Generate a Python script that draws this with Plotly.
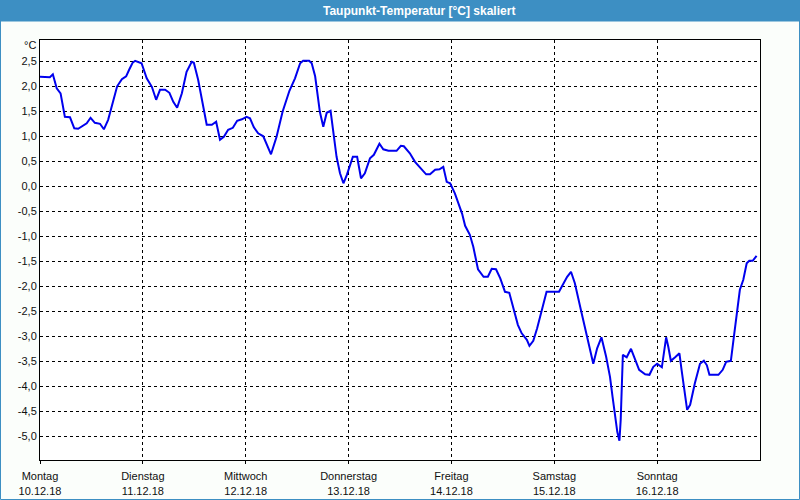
import plotly.graph_objects as go

# hours since Monday 10.12.18 00:00
hours = [0.0, 2.3, 3.0, 3.9, 4.8, 5.8, 7.0, 8.0, 8.9, 10.1, 10.9, 11.8, 12.8, 14.0, 14.9, 15.9,
         17.0, 18.0, 19.1, 20.1, 20.8, 21.6, 22.2, 23.7, 24.9, 26.1, 27.1, 28.0, 29.2, 30.2,
         31.1, 32.0, 33.1, 34.2, 35.4, 35.9, 36.9, 38.1, 38.9, 40.1, 41.1, 42.0, 42.9, 43.9,
         45.0, 46.0, 47.1, 48.2, 49.0, 49.9, 50.9, 52.1, 53.0, 53.9, 55.2, 56.6, 58.2, 59.5,
         60.7, 61.4, 62.8, 63.4, 64.2, 64.7, 65.3, 66.1, 66.9, 67.8, 68.6, 69.2, 70.0, 70.8,
         71.6, 72.5, 73.0, 74.0, 74.9, 75.8, 77.0, 77.9, 79.2, 80.1, 81.3, 83.2, 84.2, 84.9,
         86.3, 87.5, 88.5, 90.1, 91.0, 92.2, 93.2, 94.1, 94.9, 95.7, 96.8, 97.6, 98.5, 99.2,
         100.3, 101.1, 101.7, 102.2, 103.5, 104.5, 105.4, 106.4, 107.4, 108.5, 109.5, 110.5,
         111.5, 112.4, 113.6, 114.2, 115.1, 116.0, 117.1, 118.2, 121.1, 122.1, 123.0, 123.9,
         124.8, 126.2, 127.6, 128.3, 129.1, 130.0, 131.0, 132.1, 133.0, 133.6, 134.2, 134.7,
         135.2, 135.5, 136.0, 136.9, 137.9, 138.8, 139.8, 141.2, 142.2, 143.1, 144.0, 145.1,
         145.6, 146.1, 146.6, 147.2, 148.2, 149.2, 149.7, 150.3, 151.0, 151.7, 152.8, 154.0,
         154.9, 155.6, 156.2, 158.3, 159.3, 160.1, 161.2, 161.9, 162.7, 163.3, 164.1, 164.9,
         165.5, 166.3, 167.2]
dewpoint = [2.19, 2.18, 2.24, 1.96, 1.86, 1.39, 1.38, 1.16, 1.15, 1.22, 1.26, 1.37, 1.27, 1.25, 1.14, 1.33,
            1.66, 2.00, 2.14, 2.20, 2.33, 2.47, 2.51, 2.46, 2.16, 1.99, 1.73, 1.93, 1.93, 1.87,
            1.69, 1.57, 1.86, 2.29, 2.49, 2.47, 2.13, 1.59, 1.23, 1.23, 1.29, 0.93, 0.99, 1.13,
            1.17, 1.31, 1.34, 1.39, 1.36, 1.18, 1.06, 1.00, 0.83, 0.64, 0.99, 1.49, 1.91, 2.16,
            2.46, 2.51, 2.51, 2.46, 2.20, 1.86, 1.49, 1.19, 1.47, 1.51, 0.99, 0.59, 0.26, 0.06,
            0.23, 0.46, 0.59, 0.59, 0.16, 0.26, 0.56, 0.63, 0.85, 0.74, 0.71, 0.71, 0.81, 0.80,
            0.66, 0.49, 0.39, 0.24, 0.24, 0.33, 0.34, 0.39, 0.09, 0.06, -0.14, -0.34, -0.55, -0.79,
            -0.97, -1.21, -1.45, -1.66, -1.81, -1.81, -1.65, -1.66, -1.84, -2.11, -2.13, -2.47,
            -2.77, -2.94, -3.07, -3.19, -3.09, -2.84, -2.47, -2.11, -2.11, -1.94, -1.81, -1.71,
            -1.94, -2.47, -3.01, -3.27, -3.55, -3.24, -3.02, -3.41, -3.81, -4.21, -4.61, -4.91,
            -5.09, -4.67, -3.37, -3.42, -3.25, -3.47, -3.67, -3.76, -3.77, -3.61, -3.55, -3.62,
            -3.27, -3.02, -3.21, -3.49, -3.42, -3.34, -3.67, -4.07, -4.47, -4.37, -3.94, -3.55,
            -3.49, -3.58, -3.77, -3.77, -3.67, -3.51, -3.49, -3.01, -2.47, -2.07, -1.87, -1.54,
            -1.49, -1.49, -1.39]

day_ticks = [0, 24, 48, 72, 96, 120, 144]
day_names = ["Montag", "Dienstag", "Mittwoch", "Donnerstag", "Freitag", "Samstag", "Sonntag"]
day_dates = ["10.12.18", "11.12.18", "12.12.18", "13.12.18", "14.12.18", "15.12.18", "16.12.18"]
y_ticks = [2.5, 2.0, 1.5, 1.0, 0.5, 0.0, -0.5, -1.0, -1.5, -2.0, -2.5, -3.0, -3.5, -4.0, -4.5, -5.0]

title_text = "Taupunkt-Temperatur [°C] skaliert"
unit_text = "°C"

W, H = 800, 500
ML, MR, MT, MB = 40, 40, 40, 40
PW, PH = W - ML - MR, H - MT - MB

def px_x(p):
    return (p - ML) / PW

def px_y(p):
    return 1 - (p - MT) / PH

fig = go.Figure()
fig.add_trace(go.Scatter(x=hours, y=dewpoint, mode="lines",
                         line=dict(color="#0000ee", width=2), hoverinfo="skip"))

font = dict(family="Liberation Sans, Arial, sans-serif", size=11, color="#101010")

fig.update_layout(
    width=W, height=H, margin=dict(l=ML, r=MR, t=MT, b=MB, autoexpand=False),
    paper_bgcolor="#fbfefb", plot_bgcolor="#ffffff",
    separators=",.", showlegend=False, font=font,
    xaxis=dict(range=[0, 168], tickmode="array", tickvals=day_ticks,
               ticktext=[f"{n}<br>{d}" for n, d in zip(day_names, day_dates)],
               showgrid=True, gridcolor="#000000", gridwidth=1, griddash="3px,3px",
               showline=True, linecolor="#000000", linewidth=1, mirror=True,
               ticks="outside", ticklen=3, tickcolor="#000000", zeroline=False,
               ticklabelstandoff=3, automargin=False, fixedrange=True),
    yaxis=dict(range=[-5.474, 2.926], tickmode="array", tickvals=y_ticks,
               ticktext=[f"{v:.1f}".replace(".", ",") for v in y_ticks],
               showgrid=True, gridcolor="#000000", gridwidth=1, griddash="3px,3px",
               showline=True, linecolor="#000000", linewidth=1, mirror=True,
               ticks="", zeroline=False, automargin=False, fixedrange=True),
    shapes=[
        dict(type="rect", xref="paper", yref="paper",
             x0=px_x(0), x1=px_x(W), y0=px_y(0), y1=px_y(21),
             fillcolor="#3d8fc3", line=dict(width=0), layer="below"),
        dict(type="rect", xref="paper", yref="paper",
             x0=px_x(0.5), x1=px_x(W - 0.5), y0=px_y(21), y1=px_y(H - 0.5),
             fillcolor="rgba(0,0,0,0)", line=dict(color="#3d8fc3", width=1)),
    ],
    annotations=[
        dict(text=f"<b>{title_text}</b>", xref="paper", yref="paper",
             x=px_x(419), y=px_y(10.5), xanchor="center", yanchor="middle",
             showarrow=False, font=dict(family="Liberation Sans, Arial, sans-serif",
                                        size=12, color="#ffffff")),
        dict(text=unit_text, xref="paper", yref="paper",
             x=px_x(38), y=px_y(45), xanchor="right", yanchor="middle",
             showarrow=False, font=font),
    ],
)

fig.write_html("out.html")
